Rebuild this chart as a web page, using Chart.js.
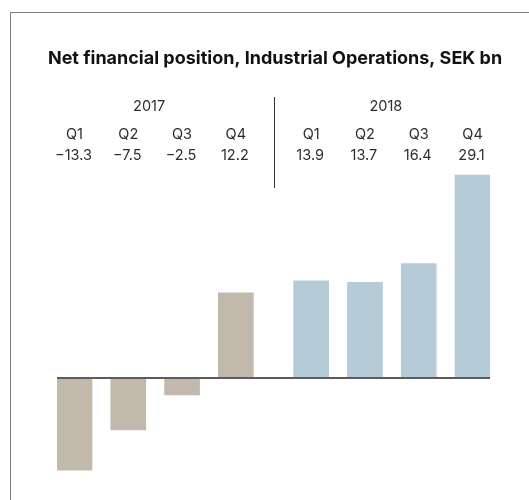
<!DOCTYPE html>
<html>
<head>
<meta charset="utf-8">
<title>Net financial position</title>
<script src="https://cdn.jsdelivr.net/npm/chart.js@4.4.1/dist/chart.umd.min.js"></script>
<style>
  html, body { margin: 0; padding: 0; background: #fff; overflow: hidden; }
  #wrap { position: relative; width: 529px; height: 500px; }
  #frame {
    position: absolute; left: 10px; top: 12px; width: 600px; height: 600px;
    border-left: 1px solid #7d7d7d; border-top: 1px solid #7d7d7d;
  }
  canvas { position: absolute; left: 0; top: 0; }
</style>
</head>
<body>
<div id="wrap">
  <div id="frame"></div>
  <canvas id="myChart" width="529" height="500"></canvas>
</div>
<script>
const title = 'Net financial position, Industrial Operations, SEK bn';
const years = ['2017', '2018'];
const quarters = ['Q1', 'Q2', 'Q3', 'Q4'];
const values2017 = [-13.3, -7.5, -2.5, 12.2];
const values2018 = [13.9, 13.7, 16.4, 29.1];

const yearValues = [values2017, values2018];
const colors = ['#c2b9ac', '#b5ccd8'];
const groupGap = 0.4;

// x position of a bar: quarters side by side, a wider gap between years
const xPos = (g, q) => g * (quarters.length + groupGap) + q;

const fmt = v => (v < 0 ? '\u2212' : '') + Math.abs(v).toFixed(1);

const headerPlugin = {
    id: 'header',
    afterDatasetsDraw(chart) {
        const { ctx, chartArea, scales } = chart;
        const x = scales.x, y = scales.y;
        ctx.save();

        // zero line
        const y0 = Math.round(y.getPixelForValue(0));
        ctx.fillStyle = '#5c5c5c';
        ctx.fillRect(chartArea.left, y0 - 1, chartArea.right - chartArea.left, 2);

        ctx.textAlign = 'center';
        ctx.textBaseline = 'middle';

        ctx.fillStyle = '#111';
        ctx.font = 'bold 18px Inter';
        ctx.fillText(title, 275, 59);

        ctx.fillStyle = '#2e2e2e';
        ctx.font = '14.5px Inter';
        years.forEach((year, g) => {
            const first = x.getPixelForValue(xPos(g, 0));
            const last = x.getPixelForValue(xPos(g, quarters.length - 1));
            ctx.fillText(year, (first + last) / 2 - 6, 107);
            quarters.forEach((q, i) => {
                const px = x.getPixelForValue(xPos(g, i));
                ctx.fillText(q, px, 135);
                ctx.fillText(fmt(yearValues[g][i]), px - 1, 156);
            });
        });

        // divider between the years
        const sep = Math.round(x.getPixelForValue(xPos(0, quarters.length - 1) + (1 + groupGap) / 2)) + 0.5;
        ctx.strokeStyle = '#333';
        ctx.lineWidth = 1;
        ctx.beginPath();
        ctx.moveTo(sep, 97);
        ctx.lineTo(sep, 188);
        ctx.stroke();

        ctx.restore();
    }
};

const ctx = document.getElementById('myChart');

new Chart(ctx, {
    type: 'bar',
    data: {
        datasets: yearValues.map((vals, g) => ({
            label: years[g],
            data: vals.map((v, q) => ({ x: xPos(g, q), y: v })),
            backgroundColor: colors[g],
            borderWidth: 0,
            barThickness: 35,
            grouped: false
        }))
    },
    options: {
        responsive: false,
        animation: false,
        devicePixelRatio: 1,
        layout: { padding: { left: 57, right: 39, top: 141, bottom: 11 } },
        scales: {
            x: {
                type: 'linear',
                display: false,
                offset: false,
                min: -0.325,
                max: xPos(1, 3) + 0.325
            },
            y: {
                display: false,
                min: -16,
                max: 34
            }
        },
        plugins: {
            legend: { display: false },
            tooltip: { enabled: false }
        }
    },
    plugins: [headerPlugin]
});
</script>
</body>
</html>
